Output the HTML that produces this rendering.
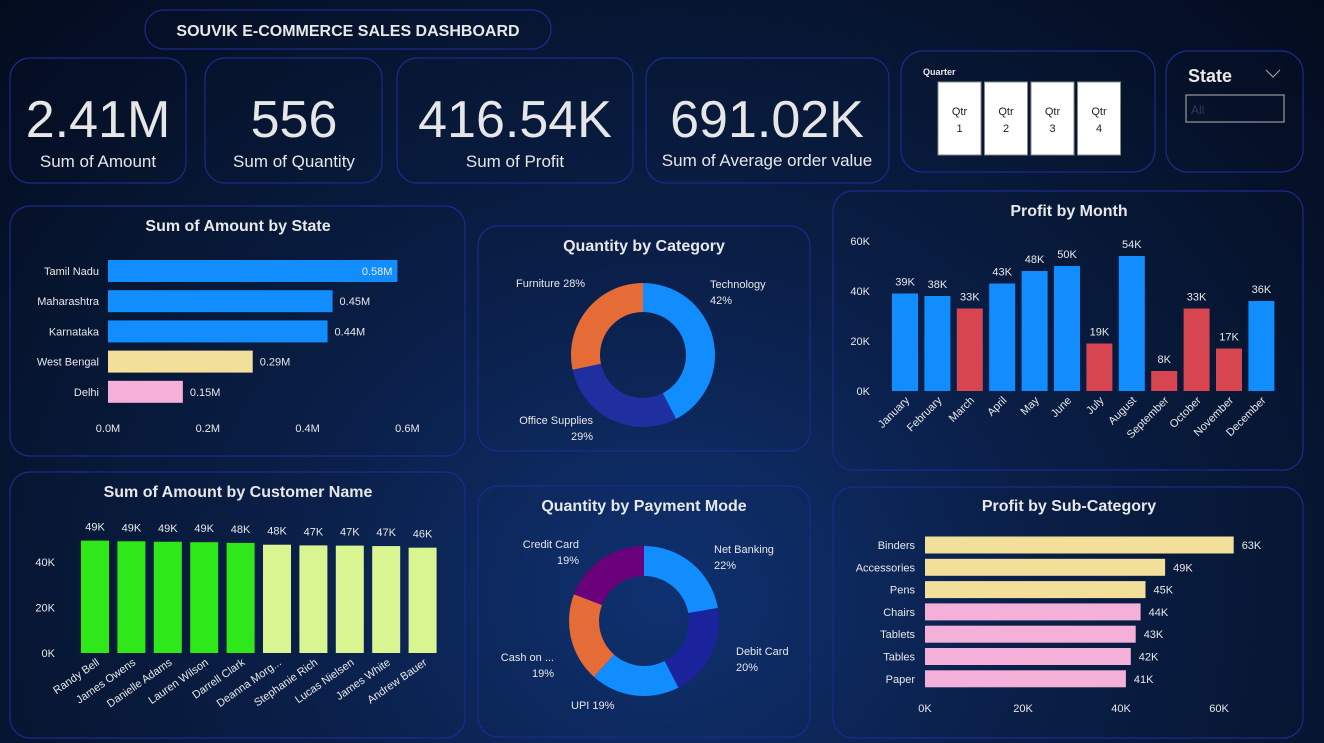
<!DOCTYPE html>
<html><head><meta charset="utf-8">
<style>
html,body{margin:0;padding:0;width:1324px;height:743px;overflow:hidden;}
body{background:radial-gradient(ellipse at 50% 80%,#0f3170 0%,#0a1f48 40%,#06142e 75%,#040b1e 100%);font-family:"Liberation Sans","DejaVu Sans",sans-serif;}
svg text{font-family:"Liberation Sans","DejaVu Sans",sans-serif;}
</style></head>
<body>
<svg id="s" width="1324" height="743" xmlns="http://www.w3.org/2000/svg">
<g fill="none" stroke="#1c2a8c" stroke-width="1.2">
<rect x="145" y="10" width="406" height="39" rx="19"/>
<rect x="10" y="58" width="176" height="125" rx="20"/>
<rect x="205" y="58" width="177" height="125" rx="20"/>
<rect x="397" y="58" width="236" height="125" rx="20"/>
<rect x="646" y="58" width="243" height="125" rx="20"/>
<rect x="901" y="51" width="254" height="121" rx="22"/>
<rect x="1166" y="51" width="137" height="121" rx="22"/>
<rect x="10" y="206" width="455" height="250" rx="20"/>
<rect x="478" y="226" width="332" height="225" rx="20"/>
<rect x="833" y="191" width="470" height="279" rx="20"/>
<rect x="10" y="472" width="455" height="266" rx="20"/>
<rect x="478" y="486" width="332" height="251" rx="20"/>
<rect x="833" y="487" width="470" height="251" rx="20"/>
</g>
<text x="348" y="36" text-anchor="middle" fill="#e8e8e8" font-size="16" font-weight="bold">SOUVIK E-COMMERCE SALES DASHBOARD</text>
<g fill="#e6e6e6" text-anchor="middle">
<text x="98" y="137" font-size="52">2.41M</text>
<text x="98" y="167" font-size="17">Sum of Amount</text>
<text x="294" y="137" font-size="52">556</text>
<text x="294" y="167" font-size="17">Sum of Quantity</text>
<text x="515" y="137" font-size="52">416.54K</text>
<text x="515" y="167" font-size="17">Sum of Profit</text>
<text x="767" y="137" font-size="52">691.02K</text>
<text x="767" y="166" font-size="17">Sum of Average order value</text>
</g>
<text x="923" y="75" fill="#e8e8e8" font-size="9" font-weight="bold">Quarter</text>
<g id="qtr"></g>
<text x="1188" y="82" fill="#e8e8e8" font-size="18" font-weight="bold">State</text>
<path d="M1266 70 L1273 77 L1280 70" stroke="#aaa" fill="none"/>
<rect x="1186" y="95" width="98" height="27" fill="none" stroke="#999" stroke-width="1.2"/>
<text x="1191" y="114" fill="#333a55" font-size="12">All</text>

<g font-weight="bold" fill="#e8e8e8" font-size="16" text-anchor="middle">
<text x="238" y="231">Sum of Amount by State</text>
<text x="644" y="251">Quantity by Category</text>
<text x="1069" y="216">Profit by Month</text>
<text x="238" y="497">Sum of Amount by Customer Name</text>
<text x="644" y="511">Quantity by Payment Mode</text>
<text x="1069" y="511">Profit by Sub-Category</text>
</g>
<g id="charts" font-size="12" fill="#e8e8e8"></g>
</svg>
<script>
// ---- data ----
const stateNames=["Tamil Nadu","Maharashtra","Karnataka","West Bengal","Delhi"];
const stateValues=[0.58,0.45,0.44,0.29,0.15];
const stateTicks=[0,0.2,0.4,0.6];
const catNames=["Technology","Office Supplies","Furniture"];
const catValues=[42,29,28];
const monthNames=["January","February","March","April","May","June","July","August","September","October","November","December"];
const monthValues=[39,38,33,43,48,50,19,54,8,33,17,36];
const monthRed=[0,0,1,0,0,0,1,0,1,1,1,0];
const monthTicks=[0,20,40,60];
const custNames=["Randy Bell","James Owens","Danielle Adams","Lauren Wilson","Darrell Clark","Deanna Morg...","Stephanie Rich","Lucas Nielsen","James White","Andrew Bauer"];
const custValues=[49.4,49.1,48.9,48.7,48.4,47.6,47.3,47.2,47.0,46.3];
const custLabels=["49K","49K","49K","49K","48K","48K","47K","47K","47K","46K"];
const custTicks=[0,20,40];
const payNames=["Net Banking","Debit Card","UPI","Cash on ...","Credit Card"];
const payValues=[22,20,19,19,19];
const subNames=["Binders","Accessories","Pens","Chairs","Tablets","Tables","Paper"];
const subValues=[63,49,45,44,43,42,41];
const subTicks=[0,20,40,60];
const quarters=["1","2","3","4"];

const NS="http://www.w3.org/2000/svg";
const G=document.getElementById('charts');
function el(tag,a,parent){const e=document.createElementNS(NS,tag);for(const k in a)e.setAttribute(k,a[k]);(parent||G).appendChild(e);return e;}
function tx(x,y,s,a,parent){const e=el('text',Object.assign({x:x,y:y},a||{}),parent);e.textContent=s;return e;}

// quarter slicer
const Q=document.getElementById('qtr');
quarters.forEach((q,i)=>{
 const x=938+i*46.5;
 const r=el('rect',{x:x,y:82,width:43,height:73,fill:'#fff',stroke:'#888','stroke-width':1},Q);
 
 
 const t1=tx(x+21.5,115,'Qtr',{'text-anchor':'middle',fill:'#222','font-size':11},Q);
 
 
 const t2=tx(x+21.5,132,q,{'text-anchor':'middle',fill:'#222','font-size':11},Q);
 
 
});

// state bar chart
const sx=v=>108+v*499, sy=i=>271+i*30.2;
stateNames.forEach((n,i)=>{
 const c=i<3?'#118dff':(i==3?'#f2df9a':'#f4b0d8');
 const r=el('rect',{x:108,y:sy(i)-11,width:sx(stateValues[i])-108,height:22,fill:c});
 
 
 const l=tx(99,sy(i)+4,n,{'text-anchor':'end','font-size':11});
 
 
 const inside=i==0;
 const v=tx(inside?sx(stateValues[i])-5:sx(stateValues[i])+7,sy(i)+4,stateValues[i].toFixed(2)+'M',{'text-anchor':inside?'end':'start','font-size':11});
 
 
});
stateTicks.forEach(t=>{const e=tx(sx(t),432,t.toFixed(1)+'M',{'text-anchor':'middle','font-size':11});
 
 });

// donut helper
function donut(cx,cy,R,r,vals,cols,names,labelPos,prefix){
 const tot=vals.reduce((a,b)=>a+b,0);let a0=-Math.PI/2;
 vals.forEach((v,i)=>{
  const a1=a0+v/tot*2*Math.PI;
  const p=(a,rr)=>[cx+rr*Math.cos(a),cy+rr*Math.sin(a)];
  const [x1,y1]=p(a0,R),[x2,y2]=p(a1,R),[x3,y3]=p(a1,r),[x4,y4]=p(a0,r);
  const lg=(a1-a0)>Math.PI?1:0;
  const s=el('path',{d:`M${x1} ${y1} A${R} ${R} 0 ${lg} 1 ${x2} ${y2} L${x3} ${y3} A${r} ${r} 0 ${lg} 0 ${x4} ${y4}Z`,fill:cols[i]});
  
  
  const lp=labelPos[i];
  lp.lines(vals[i]).forEach((ln,k)=>{const t=tx(lp.x,lp.y+k*16,ln,{'text-anchor':lp.a,'font-size':11});
   
   });
  a0=a1;
 });
}
donut(643,355,72,43,catValues,['#118dff','#1f2fa0','#e66c37'],catNames,[
 {x:710,y:288,a:'start',lines:v=>['Technology',v+'%']},
 {x:593,y:424,a:'end',lines:v=>['Office Supplies',v+'%']},
 {x:516,y:287,a:'start',lines:v=>['Furniture '+v+'%']}],'category');
donut(644,621,75,45,payValues,['#118dff','#1a239c','#118dff','#e66c37','#6b007b'],payNames,[
 {x:714,y:553,a:'start',lines:v=>['Net Banking',v+'%']},
 {x:736,y:655,a:'start',lines:v=>['Debit Card',v+'%']},
 {x:571,y:709,a:'start',lines:v=>['UPI '+v+'%']},
 {x:554,y:661,a:'end',lines:v=>['Cash on ...',v+'%']},
 {x:579,y:548,a:'end',lines:v=>['Credit Card',v+'%']}],'payment');

// profit by month
const my=v=>391-v*2.5, mx=i=>905+i*32.4;
monthTicks.forEach(t=>{const e=tx(870,my(t)+4,t+'K',{'text-anchor':'end','font-size':11});
 
 });
monthNames.forEach((n,i)=>{
 const v=monthValues[i];
 const r=el('rect',{x:mx(i)-13,y:my(v),width:26,height:391-my(v),fill:monthRed[i]?'#d64550':'#118dff'});
 
 
 const l=tx(mx(i),my(v)-8,v+'K',{'text-anchor':'middle','font-size':11});
 
 
 const m=tx(mx(i)+5,401,n,{'text-anchor':'end','font-size':11,transform:`rotate(-45 ${mx(i)+5} 401)`});
 
 
});

// customer chart
const cy=v=>653-v*2.275, cx=i=>95+i*36.4;
custTicks.forEach(t=>{const e=tx(55,cy(t)+4,t+'K',{'text-anchor':'end','font-size':11});
 
 });
custNames.forEach((n,i)=>{
 const v=custValues[i];
 const r=el('rect',{x:cx(i)-14,y:cy(v),width:28,height:653-cy(v),fill:i<5?'#2ee81a':'#d8f591'});
 
 
 const l=tx(cx(i),cy(v)-10,custLabels[i],{'text-anchor':'middle','font-size':11});
 
 
 const m=tx(cx(i)+5,664,n,{'text-anchor':'end','font-size':11,transform:`rotate(-35 ${cx(i)+5} 664)`});
 
 
});

// sub-category
const bx=v=>925+v*4.9, by=i=>545+i*22.3;
subNames.forEach((n,i)=>{
 const v=subValues[i];
 const r=el('rect',{x:925,y:by(i)-8.5,width:bx(v)-925,height:17,fill:i<3?'#f2df9a':'#f4b0d8'});
 
 
 const l=tx(915,by(i)+4,n,{'text-anchor':'end','font-size':11});
 
 
 const vl=tx(bx(v)+8,by(i)+4,v+'K',{'font-size':11});
 
 
});
subTicks.forEach(t=>{const e=tx(bx(t),712,t+'K',{'text-anchor':'middle','font-size':11});
 
 });
</script>
</body></html>
